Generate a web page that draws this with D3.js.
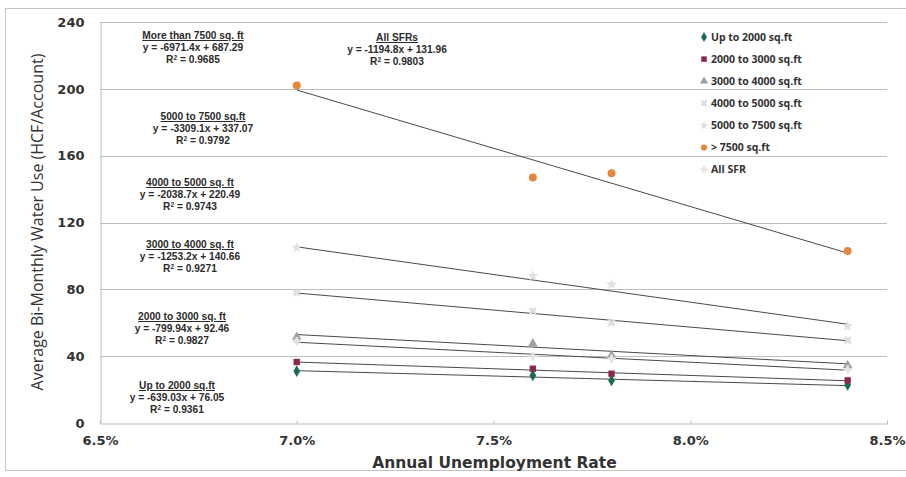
<!DOCTYPE html>
<html><head><meta charset="utf-8">
<script src="https://cdn.jsdelivr.net/npm/d3@7"></script>
<style>body{margin:0;background:#fff}svg{display:block}</style>
</head><body>
<svg id="c" width="906" height="477"></svg>
<script>
// ---- data ----
const unemployment = [0.070, 0.076, 0.078, 0.084];
const seriesNames = ["Up to 2000 sq.ft","2000 to 3000 sq.ft","3000 to 4000 sq.ft","4000 to 5000 sq.ft","5000 to 7500 sq.ft","> 7500 sq.ft","All SFR"];
const upTo2000   = [31.0, 28.5, 25.5, 22.8];
const s2000_3000 = [36.5, 32.5, 29.5, 25.5];
const s3000_4000 = [51.5, 47.5, 40.5, 34.5];
const s4000_5000 = [78.0, 67.0, 60.0, 49.5];
const s5000_7500 = [105.0, 88.0, 83.0, 58.0];
const over7500   = [202.0, 147.0, 149.5, 103.0];
const allSFR     = [49.0, 40.0, 38.5, 32.0];
const slopes     = [-639.03, -799.94, -1253.2, -2038.7, -3309.1, -6971.4, -1194.8];
const intercepts = [76.05, 92.46, 140.66, 220.49, 337.07, 687.29, 131.96];
const annTitles  = ["Up to 2000 sq.ft","2000 to 3000 sq. ft","3000 to 4000 sq. ft","4000 to 5000 sq. ft","5000 to 7500 sq.ft","More than 7500 sq. ft","All SFRs"];
const annEqs     = ["y = -639.03x + 76.05","y = -799.94x + 92.46","y = -1253.2x + 140.66","y = -2038.7x + 220.49","y = -3309.1x + 337.07","y = -6971.4x + 687.29","y = -1194.8x + 131.96"];
const annR2      = ["0.9361","0.9827","0.9271","0.9743","0.9792","0.9685","0.9803"];
const xTicks = [0.065, 0.070, 0.075, 0.080, 0.085];
const yTicks = [0, 40, 80, 120, 160, 200, 240];
const allValues = [upTo2000, s2000_3000, s3000_4000, s4000_5000, s5000_7500, over7500, allSFR];

// ---- style / layout ----
const colors = ["#1d6b58","#8a2846","#a0a0a0","#dedede","#e0e0e0","#e3873d","#e4e4e4"];
const shapes = [d3.symbolDiamond, d3.symbolSquare, d3.symbolTriangle, d3.symbolCross, d3.symbolStar, d3.symbolCircle, d3.symbolCross];
const annPos = [[177,386],[182,317],[190,245],[190,183],[203,117],[193,36],[397,38]];

const svg = d3.select("#c");
const L = 100, R = 887, T = 22, B = 423;
const x = d3.scaleLinear().domain([0.065, 0.085]).range([L, R]);
const y = d3.scaleLinear().domain([0, 240]).range([B, T]);

// outer border
svg.append("rect").attr("x",5.5).attr("y",8.5).attr("width",905).attr("height",462)
  .attr("fill","none").attr("stroke","#c4c4c4");

// gridlines
svg.append("g").selectAll("line").data(yTicks.filter(d=>d>0)).join("line")
  .attr("x1",L).attr("x2",R).attr("y1",d=>Math.round(y(d))+0.5).attr("y2",d=>Math.round(y(d))+0.5)
  .attr("stroke","#bdbdbd").attr("stroke-width",1);

// axes
const yAx = svg.append("g").attr("transform",`translate(${L+0.5},0)`)
  .call(d3.axisLeft(y).tickValues(yTicks).tickSize(0).tickPadding(16).tickFormat(d3.format("d")));
const xAx = svg.append("g").attr("transform",`translate(0,${B+0.5})`)
  .call(d3.axisBottom(x).tickValues(xTicks).tickSize(-3).tickPadding(12).tickFormat(d3.format(".1%")));
[yAx,xAx].forEach(a=>{
  a.select(".domain").attr("stroke","#bdbdbd");
  a.selectAll(".tick line").attr("stroke","#bdbdbd");
  a.selectAll("text").attr("font-family","DejaVu Sans").attr("font-weight","bold")
   .attr("font-size","13px").attr("fill","#333");
});

// trend lines
const x0 = unemployment[0], x1 = unemployment[unemployment.length-1];
svg.append("g").selectAll("line").data(slopes).join("line")
  .attr("x1",x(x0)).attr("x2",x(x1))
  .attr("y1",(d,i)=>y(d*x0+intercepts[i])).attr("y2",(d,i)=>y(d*x1+intercepts[i]))
  .attr("stroke","#4a4a4a").attr("stroke-width",1);

// points
allValues.forEach((vals,i)=>{
  svg.append("g").selectAll("path").data(vals).join("path")
    .attr("d", d3.symbol().type(shapes[i]).size(i===5?50:40))
    .attr("transform",(d,j)=>`translate(${x(unemployment[j])},${y(d)})${i===3?" rotate(45)":""}`)
    .attr("fill",colors[i]);
});

// annotations
annTitles.forEach((t,i)=>{
  const g = svg.append("g").attr("font-family","Liberation Sans").attr("font-weight","bold")
    .attr("font-size","10.2px").attr("fill","#2b2b2b").attr("text-anchor","middle");
  const [cx,cy] = annPos[i];
  g.append("text").attr("x",cx).attr("y",cy+3).attr("text-decoration","underline").text(t);
  g.append("text").attr("x",cx).attr("y",cy+15).text(annEqs[i]);
  const r = g.append("text").attr("x",cx).attr("y",cy+27);
  r.append("tspan").text("R");
  r.append("tspan").attr("dy",-3).attr("font-size","6.5px").text("2");
  r.append("tspan").attr("dy",3).text(" = " + annR2[i]);
});

// legend
const lg = svg.append("g");
seriesNames.forEach((n,i)=>{
  const ly = 37 + i*22.1;
  lg.append("path").attr("d", d3.symbol().type(shapes[i]).size(30))
    .attr("transform",`translate(704,${ly})${i===3?" rotate(45)":""}`).attr("fill",colors[i]);
  lg.append("text").attr("x",711).attr("y",ly+3.8).attr("font-family","Open Sans")
    .attr("font-weight","bold").attr("font-size","10.5px").attr("fill","#333").text(n);
});

// axis titles
svg.append("text").attr("x",(L+R)/2+1).attr("y",468).attr("text-anchor","middle")
  .attr("font-family","DejaVu Sans").attr("font-weight","bold").attr("font-size","15.5px")
  .attr("fill","#333").text("Annual Unemployment Rate");
svg.append("text").attr("transform","translate(43,222) rotate(-90)").attr("text-anchor","middle")
  .attr("font-family","Open Sans").attr("font-size","16px").attr("fill","#333")
  .text("Average Bi-Monthly Water Use (HCF/Account)");
</script>
</body></html>
